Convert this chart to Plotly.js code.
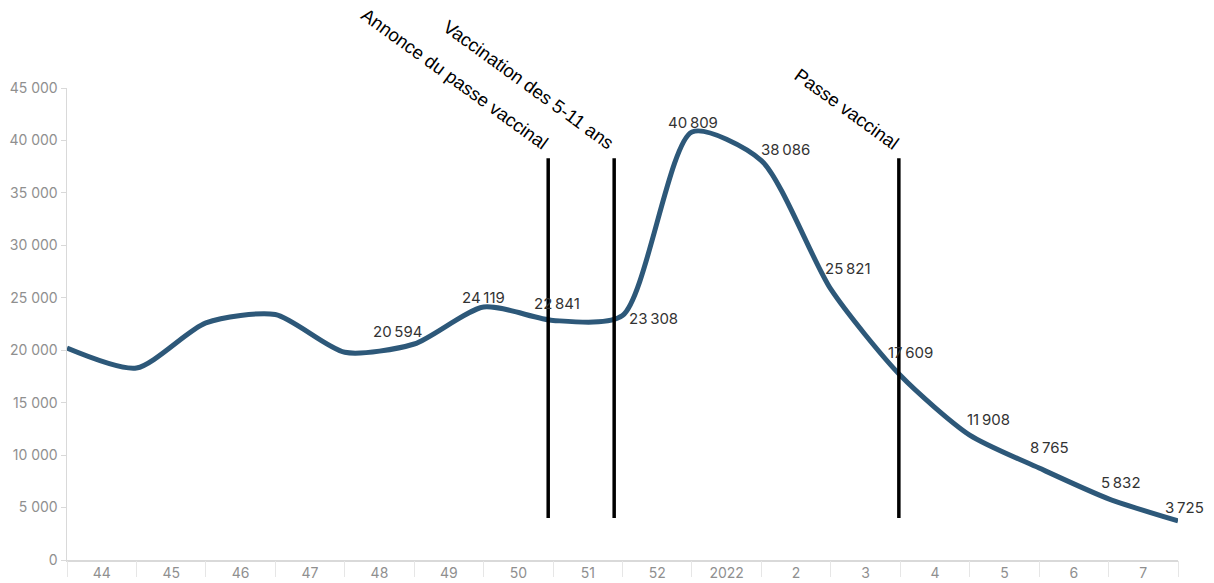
<!DOCTYPE html>
<html>
<head>
<meta charset="utf-8">
<script src="https://cdn.plot.ly/plotly-3.0.1.min.js"></script>
<style>html,body{margin:0;padding:0;background:#fff;}#chart{width:1214px;height:583px;}</style>
</head>
<body>
<div id="chart"></div>
<script>
// Week categories (x-axis labels)
const weeks = ["44","45","46","47","48","49","50","51","52","2022","2","3","4","5","6","7"];
// Values at week boundaries (17 points)
const values = [20200, 18300, 22600, 23400, 19800, 20594, 24119, 22841, 23308, 40809, 38086, 25821, 17609, 11908, 8765, 5832, 3725];
// Which values are labelled
const labelled = [false, false, false, false, false, true, true, true, true, true, true, true, true, true, true, true, true];
// Event markers
const eventNames = ["Annonce du passe vaccinal", "Vaccination des 5-11 ans", "Passe vaccinal"];
const eventPos = [6.93, 7.88, 11.98];
const eventTop = 38300;
const eventBottom = 4000;

// label pixel offsets (style)
const labelDx = [0,0,0,0,0, -17, 0, 4, 31, 1, 24, 17, 10, 19, 10, 12, 6];
const labelDy = [0,0,0,0,0, 12, 10, 17, -3, 9, 11, 21, 23, 16, 21, 16, 13];

const xs = values.map((v, i) => i);
const fmt = v => String(v).replace(/\B(?=(\d{3})+(?!\d))/g, "\u202F");

const trace = {
  x: xs, y: values, type: "scatter", mode: "lines",
  line: {color: "#2d5879", width: 5, shape: "spline", smoothing: 0.7},
  hoverinfo: "skip", showlegend: false
};
const sep = {
  x: [0, 16], y: [null, null], xaxis: "x2", type: "scatter", mode: "lines", showlegend: false, hoverinfo: "skip"
};

const shapes = eventPos.map(p => ({
  type: "line", xref: "x", yref: "y", x0: p, x1: p, y0: eventBottom, y1: eventTop,
  line: {color: "#000", width: 3.5}
}));
const annotations = eventNames.map((n, i) => ({
  x: eventPos[i], y: eventTop, xref: "x", yref: "y", text: n, showarrow: false,
  textangle: 36, xanchor: "right", yanchor: "bottom", yshift: 2, xshift: 6,
  font: {family: "'Liberation Sans', Arial, sans-serif", size: 18.5, color: "#000"}
}));
values.forEach((v, i) => {
  if (!labelled[i]) return;
  annotations.push({
    x: i, y: v, xref: "x", yref: "y", text: fmt(v), showarrow: false,
    xanchor: "center", yanchor: "middle", xshift: labelDx[i], yshift: labelDy[i],
    font: {family: "Inter, 'Open Sans', sans-serif", size: 15, color: "#333"}
  });
});

const layout = {
  width: 1214, height: 583,
  margin: {l: 67, r: 36, t: 88, b: 23},
  paper_bgcolor: "#fff", plot_bgcolor: "#fff",
  separators: ", ",
  xaxis: {
    range: [0, 16], tickmode: "array",
    tickvals: weeks.map((w, i) => i + 0.5), ticktext: weeks,
    ticks: "", showgrid: false, zeroline: false,
    showline: true, linecolor: "#d9d9d9", linewidth: 1.5,
    tickfont: {family: "Inter, 'Open Sans', sans-serif", size: 14, color: "#8f8f8f"}
  },
  xaxis2: {
    range: [0, 16], overlaying: "x", tickmode: "array",
    tickvals: xs, ticks: "outside", ticklen: 16, tickcolor: "#e6e6e6", tickwidth: 1,
    showticklabels: false, showgrid: false, zeroline: false, showline: false
  },
  yaxis: {
    range: [0, 45000], tickmode: "array",
    tickvals: [0,5000,10000,15000,20000,25000,30000,35000,40000,45000],
    ticktext: ["0","5 000","10 000","15 000","20 000","25 000","30 000","35 000","40 000","45 000"],
    ticks: "outside", ticklen: 5, tickcolor: "#d9d9d9",
    showgrid: false, zeroline: false, showline: true, linecolor: "#d9d9d9", linewidth: 1.5,
    tickfont: {family: "Inter, 'Open Sans', sans-serif", size: 14, color: "#8f8f8f"}
  },
  shapes: shapes, annotations: annotations
};
Plotly.newPlot("chart", [trace, sep], layout, {displayModeBar: false, staticPlot: true});
</script>
</body>
</html>
